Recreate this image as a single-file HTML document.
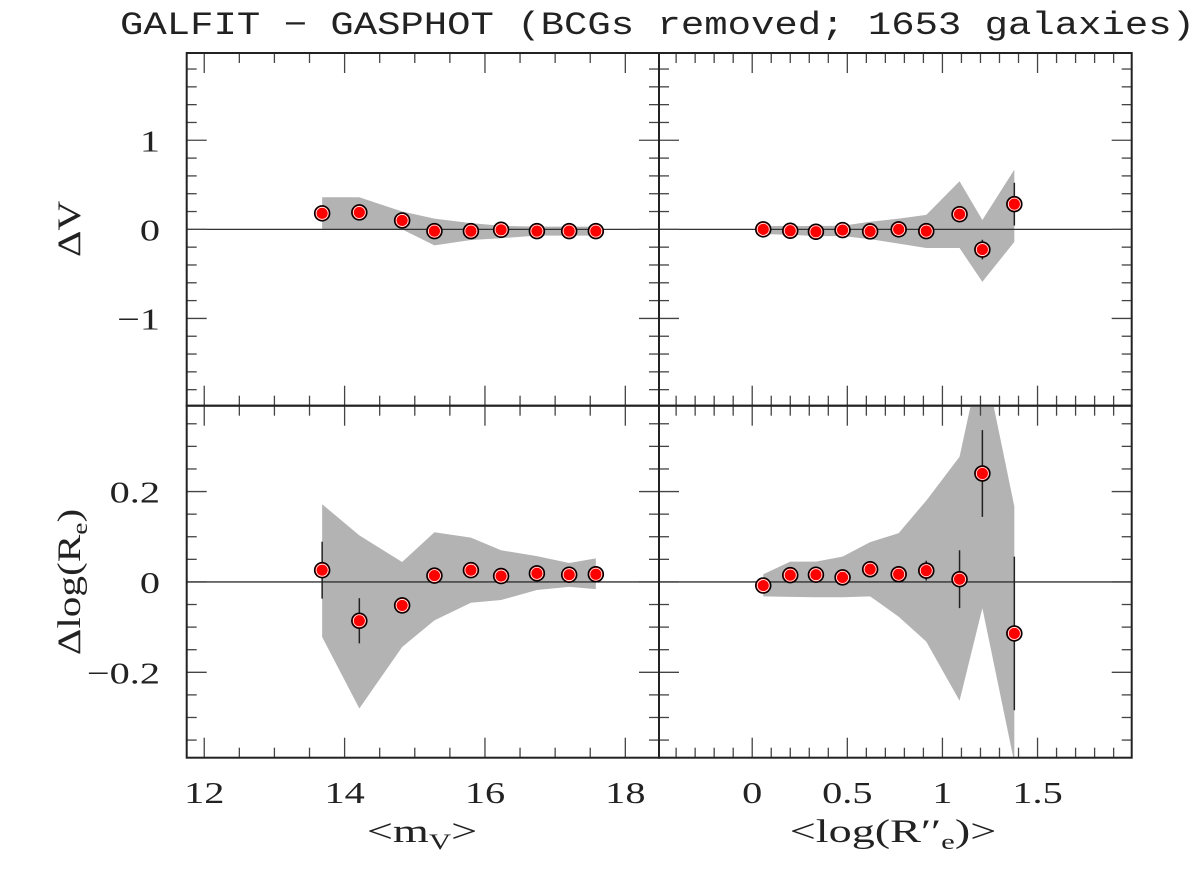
<!DOCTYPE html>
<html><head><meta charset="utf-8"><style>
body{margin:0;background:#fff;}
svg text{font-family:"Liberation Serif",serif;fill:#222;}
</style></head><body>
<svg id="chart" width="1200" height="866" xmlns="http://www.w3.org/2000/svg">
<text x="120" y="34" textLength="1075" lengthAdjust="spacingAndGlyphs" style="font-family:'Liberation Mono',monospace;font-size:32px;">GALFIT − GASPHOT (BCGs removed; 1653 galaxies)</text>
<g id="g"></g>
</svg>
<script>
// data
const magX = [13.68,14.21,14.82,15.28,15.8,16.23,16.74,17.2,17.58];
const magDV = [0.18,0.19,0.10,-0.02,-0.02,-0.005,-0.02,-0.02,-0.02];
const magDVErr = [0,0,0,0,0,0,0,0,0];
const magDVUp = [0.36,0.36,0.20,0.12,0.07,0.04,0.03,0.03,0.03];
const magDVLo = [0,0,0,-0.18,-0.12,-0.10,-0.07,-0.07,-0.07];
const magDR = [0.026,-0.086,-0.052,0.014,0.026,0.013,0.019,0.016,0.017];
const magDRErr = [0.063,0.05,0,0,0,0,0,0,0];
const magDRUp = [0.172,0.103,0.044,0.11,0.098,0.07,0.057,0.042,0.052];
const magDRLo = [-0.122,-0.28,-0.144,-0.085,-0.046,-0.04,-0.018,-0.011,-0.016];
const reX = [0.058,0.20,0.335,0.475,0.62,0.77,0.915,1.09,1.21,1.378];
const reDV = [0,-0.016,-0.027,-0.008,-0.023,0,-0.02,0.17,-0.227,0.283];
const reDVErr = [0,0,0,0,0,0,0,0,0.11,0.24];
const reDVUp = [0.037,0.037,0.037,0.04,0.086,0.12,0.162,0.54,0.105,0.67];
const reDVLo = [-0.053,-0.06,-0.076,-0.076,-0.11,-0.16,-0.21,-0.21,-0.59,-0.14];
const reDR = [-0.008,0.015,0.016,0.010,0.028,0.017,0.025,0.006,0.24,-0.114];
const reDRErr = [0,0,0,0,0,0,0.022,0.064,0.096,0.17];
const reDRUp = [0.017,0.045,0.045,0.056,0.088,0.108,0.18,0.277,0.51,0.167];
const reDRLo = [-0.032,-0.033,-0.034,-0.034,-0.032,-0.077,-0.132,-0.263,-0.058,-0.40];
const magTicks = ["12","14","16","18"];
const reTicks = ["0","0.5","1","1.5"];
const dvTicks = ["−1","0","1"];
const drTicks = ["−0.2","0","0.2"];

const NS="http://www.w3.org/2000/svg";
const G=document.getElementById('g');
function mk(t,a,p){const e=document.createElementNS(NS,t);for(const k in a)e.setAttribute(k,a[k]);(p||G).appendChild(e);return e;}
const L=186.7,M=659,R=1131.7,T=53,MID=405.7,B=757.7;
function sc(d0,d1,r0,r1){return v=>r0+(v-d0)/(d1-d0)*(r1-r0);}
const panels=[
 {name:'dv-vs-mag',x0:L,x1:M,y0:T,y1:MID,xd:[11.75,18.48],yd:[-1.98,1.98],xs:magX,ys:magDV,er:magDVErr,up:magDVUp,lo:magDVLo,xmaj:2,xmin:0.5,ymaj:1,ymin:0.2,xl:null,yl:dvTicks},
 {name:'dv-vs-re',x0:M,x1:R,y0:T,y1:MID,xd:[-0.49,1.995],yd:[-1.98,1.98],xs:reX,ys:reDV,er:reDVErr,up:reDVUp,lo:reDVLo,xmaj:0.5,xmin:0.1,ymaj:1,ymin:0.2,xl:null,yl:null},
 {name:'dr-vs-mag',x0:L,x1:M,y0:MID,y1:B,xd:[11.75,18.48],yd:[-0.389,0.39],xs:magX,ys:magDR,er:magDRErr,up:magDRUp,lo:magDRLo,xmaj:2,xmin:0.5,ymaj:0.2,ymin:0.05,xl:magTicks,yl:drTicks},
 {name:'dr-vs-re',x0:M,x1:R,y0:MID,y1:B,xd:[-0.49,1.995],yd:[-0.389,0.39],xs:reX,ys:reDR,er:reDRErr,up:reDRUp,lo:reDRLo,xmaj:0.5,xmin:0.1,ymaj:0.2,ymin:0.05,xl:reTicks,yl:null}
];
const SX=1.3;
panels.forEach(p=>{
 const g=mk('g',{});
 
 
 const cp=mk('clipPath',{id:'c'+p.name},g);mk('rect',{x:p.x0,y:p.y0,width:p.x1-p.x0,height:p.y1-p.y0},cp);
 const X=sc(p.xd[0],p.xd[1],p.x0,p.x1),Y=sc(p.yd[0],p.yd[1],p.y1,p.y0);
 let pts=p.xs.map((x,i)=>X(x)+','+Y(p.up[i]));
 for(let i=p.xs.length-1;i>=0;i--)pts.push(X(p.xs[i])+','+Y(p.lo[i]));
 const band=mk('polygon',{points:pts.join(' '),fill:'#b3b3b3','clip-path':'url(#c'+p.name+')'},g);
 
 
 const zl=mk('line',{x1:p.x0,x2:p.x1,y1:Y(0),y2:Y(0),stroke:'#333','stroke-width':1.3},g);
 
 
 const eps=1e-6;
 for(let v=Math.ceil(p.xd[0]/p.xmin)*p.xmin;v<=p.xd[1]+eps;v+=p.xmin){
  const maj=Math.abs(v/p.xmaj-Math.round(v/p.xmaj))<1e-4, len=maj?20:10, x=X(v);
  mk('line',{x1:x,x2:x,y1:p.y1,y2:p.y1-len,stroke:'#444','stroke-width':1.3},g);
  mk('line',{x1:x,x2:x,y1:p.y0,y2:p.y0+len,stroke:'#444','stroke-width':1.3},g);
 }
 for(let v=Math.ceil(p.yd[0]/p.ymin)*p.ymin;v<=p.yd[1]+eps;v+=p.ymin){
  const maj=Math.abs(v/p.ymaj-Math.round(v/p.ymaj))<1e-4, len=maj?20:10, y=Y(v);
  mk('line',{x1:p.x0,x2:p.x0+len,y1:y,y2:y,stroke:'#444','stroke-width':1.3},g);
  mk('line',{x1:p.x1,x2:p.x1-len,y1:y,y2:y,stroke:'#444','stroke-width':1.3},g);
 }
 const fr=mk('rect',{x:p.x0,y:p.y0,width:p.x1-p.x0,height:p.y1-p.y0,fill:'none',stroke:'#222','stroke-width':2},g);
 
 
 p.xs.forEach((x,i)=>{
  if(p.er[i]>0){const eb=mk('line',{x1:X(x),x2:X(x),y1:Y(p.ys[i]-p.er[i]),y2:Y(p.ys[i]+p.er[i]),stroke:'#222','stroke-width':1.5},g);
   
   }
  const c=mk('circle',{cx:X(x),cy:Y(p.ys[i]),r:7.5,fill:'#ff0000',stroke:'#000','stroke-width':1.5},g);
  
  
  mk('circle',{cx:X(x),cy:Y(p.ys[i]),r:6,fill:'none',stroke:'#fff','stroke-width':0.8},g);
 });
 if(p.yl){p.yl.forEach(s=>{const v=parseFloat(s.replace('−','-'));const t=mk('text',{x:0,y:0,'text-anchor':'end','font-size':31,transform:`translate(160 ${Y(v)+11}) scale(${SX} 1)`},g);t.textContent=s;
  
  });}
 if(p.xl){p.xl.forEach(s=>{const v=parseFloat(s);const x=X(v);if(x>p.x1+5)return;const t=mk('text',{x:0,y:0,'text-anchor':'middle','font-size':31,transform:`translate(${x} 803) scale(${SX} 1)`},g);t.textContent=s;
  
  });}
});
function lab(html,x,y,rot,name,s){const t=mk('text',{x:0,y:0,'text-anchor':'middle','font-size':33,transform:`translate(${x} ${y}) rotate(${rot?-90:0}) scale(${s} 1)`});t.innerHTML=html;
 
 }
lab('ΔV',80,229,true,'y-axis-title-top',1.25);
lab('Δlog(R<tspan font-size="22" dy="7">e</tspan><tspan dy="-7">)</tspan>',80,582,true,'y-axis-title-bottom',1.25);
lab('&lt;m<tspan font-size="22" dy="7">V</tspan><tspan dy="-7">&gt;</tspan>',422,842,false,'x-axis-title-left',1.4);
lab('&lt;log(R′′<tspan font-size="22" dy="7">e</tspan><tspan dy="-7">)&gt;</tspan>',893,842,false,'x-axis-title-right',1.4);
</script>
</body></html>
